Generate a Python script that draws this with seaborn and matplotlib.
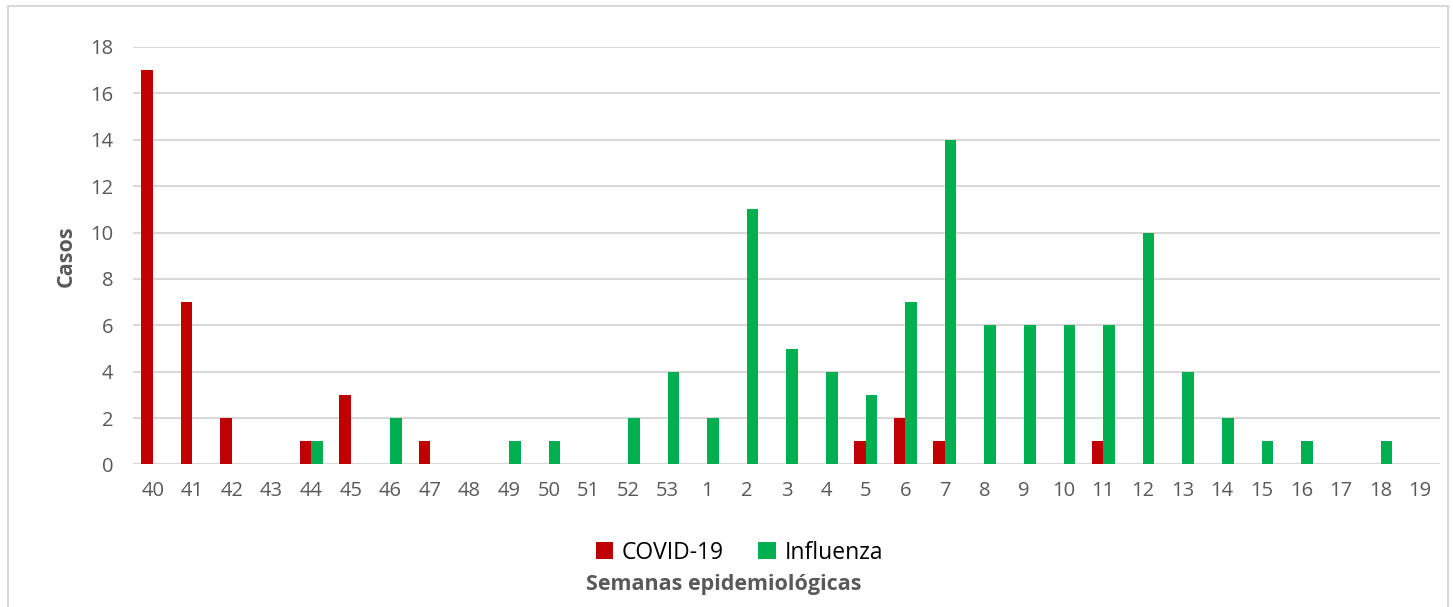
import pandas as pd
import matplotlib.pyplot as plt
import seaborn as sns
from matplotlib.patches import Rectangle

# weeks 40..53 of the first year, then 1..19
semanas = [str(s) for s in list(range(40, 54)) + list(range(1, 20))]
covid = [17, 7, 2, 0, 1, 3, 0, 1, 0, 0, 0, 0, 0, 0,
         0, 0, 0, 0, 1, 2, 1, 0, 0, 0, 1, 0, 0, 0, 0, 0, 0, 0, 0]
influenza = [0, 0, 0, 0, 1, 0, 2, 0, 0, 1, 1, 0, 2, 4,
             2, 11, 5, 4, 3, 7, 14, 6, 6, 6, 6, 10, 4, 2, 1, 1, 0, 1, 0]

df = pd.DataFrame({
    'Semana': semanas * 2,
    'Casos': covid + influenza,
    'Virus': ['COVID-19'] * len(semanas) + ['Influenza'] * len(semanas),
})

sns.set_style('white')
plt.rcParams['font.family'] = ['Open Sans', 'DejaVu Sans']

fig = plt.figure(figsize=(14.53, 6.07), dpi=100)
ax = fig.add_axes([0.0915, 0.2348, 0.8995, 0.6878])

sns.barplot(data=df, x='Semana', y='Casos', hue='Virus', order=semanas,
            palette={'COVID-19': '#C00000', 'Influenza': '#00B050'},
            saturation=1, width=0.58, gap=0, ax=ax, legend=True,
            edgecolor='none')

ax.set_ylim(0, 18)
ax.set_xlim(-0.5, len(semanas) - 0.5)
ax.set_yticks(range(0, 19, 2))
ax.yaxis.grid(True, color='#D9D9D9', linewidth=1.5)
ax.set_axisbelow(True)
for s in ax.spines.values():
    s.set_visible(False)
ax.tick_params(axis='both', length=0, labelsize=14.5, labelcolor='#595959')
ax.tick_params(axis='x', pad=12)
ax.tick_params(axis='y', pad=14)

ax.set_ylabel('Casos', fontsize=15.5, fontweight='bold', color='#595959', labelpad=10)
ax.set_xlabel('Semanas epidemiológicas', fontsize=15.5, fontweight='bold',
              color='#595959')
ax.xaxis.set_label_coords(0.452, -0.263)

leg = ax.legend(loc='upper center', bbox_to_anchor=(0.464, -0.133), ncol=2,
                frameon=False, fontsize=16.5, handlelength=0.75, handleheight=0.75,
                handletextpad=0.4, columnspacing=1.5)
for t in leg.get_texts():
    t.set_color('black')

fig.patches.append(Rectangle((8 / 1453, -0.1), 1440 / 1453, 1.1 - 6 / 607,
                             transform=fig.transFigure, fill=False,
                             edgecolor='#D9D9D9', linewidth=1.5))

plt.savefig('out.png', dpi=100)
